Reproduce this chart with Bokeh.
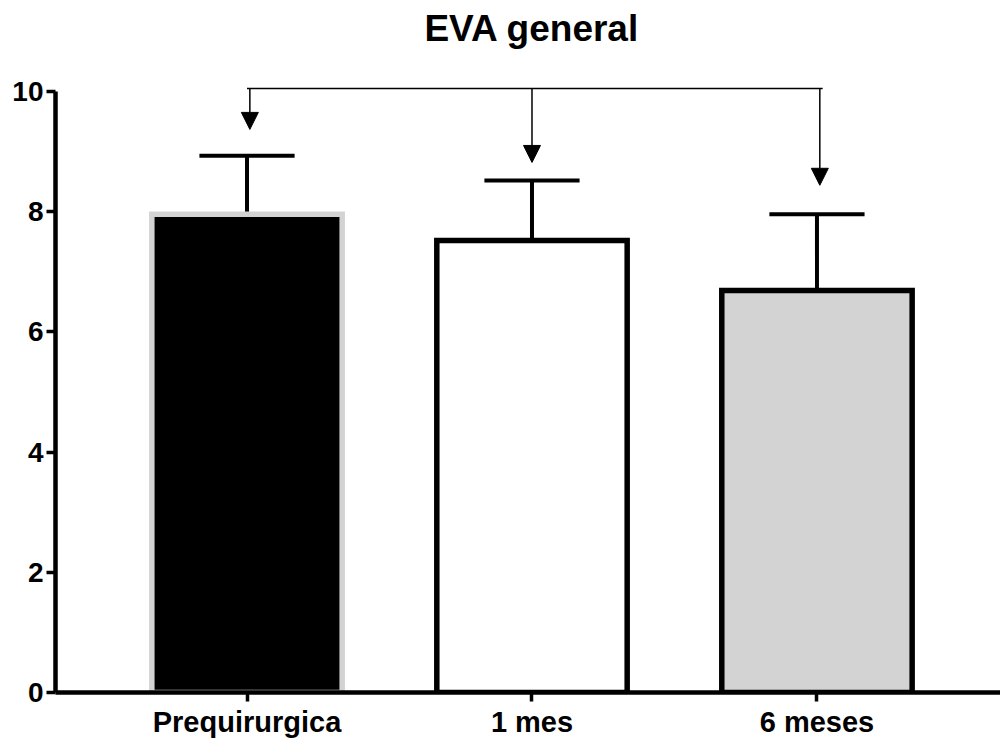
from bokeh.plotting import figure
from bokeh.layouts import column
from bokeh.models import Range1d, FixedTicker, Arrow, NormalHead, ColumnDataSource
from bokeh.core.properties import value
from bokeh.embed import file_html
from bokeh.resources import INLINE

# ---- data ----
title_text = "EVA general"
categories = ["Prequirurgica", "1 mes", "6 meses"]
x_pos = [1, 2, 3]
means = [7.96, 7.52, 6.69]
err_upper = [8.93, 8.52, 7.96]
fill_colors = ["#000000", "#ffffff", "#d3d3d3"]
edge_colors = ["#d3d3d3", "#000000", "#000000"]
arrow_x = [1.01, 2.0, 3.01]
arrow_tips = [9.37, 8.82, 8.44]
bracket_y = 10.05
y_ticks = [0, 2, 4, 6, 8, 10]

FONT = "Liberation Sans"
X_START, X_END = 0.328, 3.644

# ---- title strip ----
t = figure(width=1000, height=70, output_backend="svg", toolbar_location=None,
           x_range=Range1d(X_START, X_END), y_range=Range1d(0, 70),
           x_axis_type=None, y_axis_type=None,
           min_border_left=55, min_border_right=0, min_border_top=0, min_border_bottom=0)
t.outline_line_color = None
t.xgrid.visible = False
t.ygrid.visible = False
t.text(x=[2.0], y=[42], text=[title_text], text_font=value(FONT), text_font_size="37px",
       text_font_style="bold", text_align="center", text_baseline="alphabetic", text_color="black")

# ---- main chart ----
p = figure(width=1000, height=670, output_backend="svg", toolbar_location=None,
           x_range=Range1d(X_START, X_END), y_range=Range1d(0, 10.35),
           min_border_left=55, min_border_right=0, min_border_top=0, min_border_bottom=48)

p.outline_line_color = None
p.xgrid.visible = False
p.ygrid.visible = False

src = ColumnDataSource(dict(x=x_pos, top=means, up=err_upper, fill=fill_colors, edge=edge_colors))

# error bars (drawn first so bars cover the stem base)
p.segment(x0="x", y0="top", x1="x", y1="up", source=src, line_color="black", line_width=4)
half_cap = 0.167
p.segment(x0=[x - half_cap for x in x_pos], y0=err_upper, x1=[x + half_cap for x in x_pos], y1=err_upper,
          line_color="black", line_width=4)

p.vbar(x="x", top="top", bottom=0, width=0.668, source=src, fill_color="fill",
       line_color="edge", line_width=5.5, line_join="miter")

# comparison bracket
p.segment(x0=[arrow_x[0] - 0.01], y0=[bracket_y], x1=[arrow_x[-1] + 0.01], y1=[bracket_y],
          line_color="black", line_width=1.5)
for ax, tip in zip(arrow_x, arrow_tips):
    p.add_layout(Arrow(x_start=ax, y_start=bracket_y, x_end=ax, y_end=tip, line_width=1.5,
                       line_color="black",
                       end=NormalHead(size=17, fill_color="black", line_color="black", line_width=1)))

for axis in (p.xaxis[0], p.yaxis[0]):
    axis.axis_line_width = 4.5
    axis.axis_line_color = "black"
    axis.major_tick_line_width = 3.5
    axis.major_tick_line_color = "black"
    axis.major_tick_out = 9
    axis.major_tick_in = 0
    axis.minor_tick_line_color = None
    axis.major_label_text_font = FONT
    axis.major_label_text_font_style = "bold"
    axis.major_label_text_color = "black"

p.yaxis[0].ticker = FixedTicker(ticks=y_ticks)
p.yaxis[0].bounds = (0, 10)
p.yaxis[0].major_label_text_font_size = "28px"
p.yaxis[0].major_label_standoff = 3

p.xaxis[0].ticker = FixedTicker(ticks=x_pos)
p.xaxis[0].major_label_overrides = {x: c for x, c in zip(x_pos, categories)}
p.xaxis[0].major_label_text_font_size = "29px"
p.xaxis[0].major_label_standoff = 4

layout = column(t, p, spacing=0)
open("out.html", "w").write(file_html(layout, INLINE))
